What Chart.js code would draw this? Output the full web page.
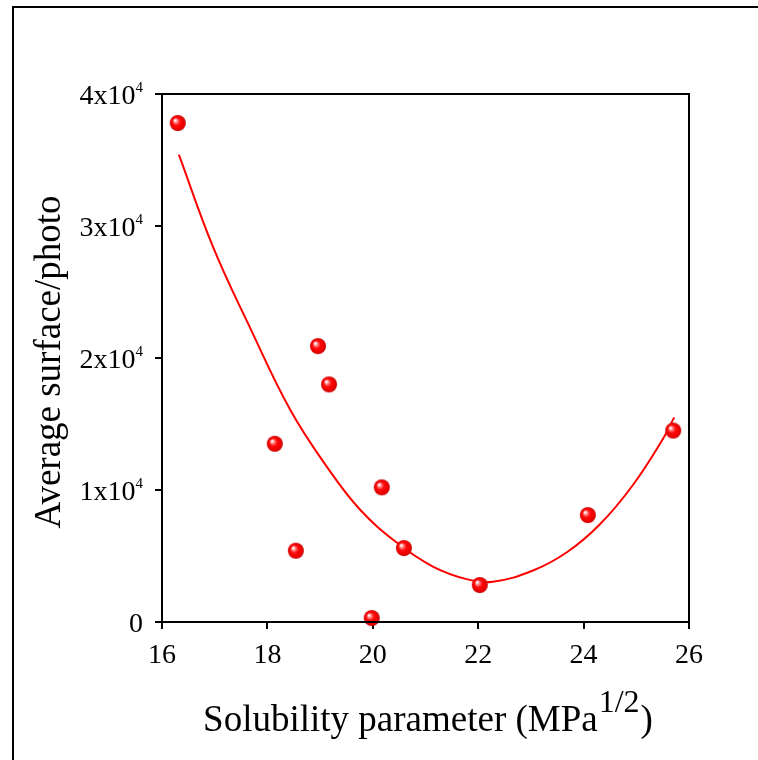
<!DOCTYPE html>
<html>
<head>
<meta charset="utf-8">
<title>Average surface vs solubility parameter</title>
<script src="https://cdn.jsdelivr.net/npm/chart.js@4.4.1/dist/chart.umd.min.js"></script>
<style>
  html, body { margin: 0; padding: 0; background: #fff; }
  #chart { display: block; }
</style>
</head>
<body>
<canvas id="chart" width="758" height="760"></canvas>
<script>
// measured points
const solubility = [16.30, 18.14, 18.54, 18.96, 19.17, 19.98, 20.17, 20.59, 22.03, 24.08, 25.70];
const avgSurface = [37800, 13500, 5400, 20900, 18000, 300, 10200, 5600, 2800, 8100, 14500];

// fitted curve
const fitX = [16.32, 16.97, 17.67, 18.43, 19.13, 19.76, 20.46, 21.14, 21.78, 22.28, 23.04, 23.69, 24.31, 24.94, 25.51, 25.72];
const fitY = [35400, 28400, 22300, 16100, 11750, 8500, 6000, 4200, 3250, 3050, 3900, 5300, 7400, 10400, 13900, 15500];

// axis ticks
const xTicks = [16, 18, 20, 22, 24, 26];
const yTicks = [0, 10000, 20000, 30000, 40000];
const yTickMain = ['0', '1x10', '2x10', '3x10', '4x10'];
const yTickSup = ['', '4', '4', '4', '4'];

const xTitle = 'Solubility parameter (MPa';
const xTitleSup = '1/2';
const yTitle = 'Average surface/photo';

const FONT = "'Liberation Serif', 'Times New Roman', serif";

// little shaded red ball for the markers
function makeBall(r) {
    const c = document.createElement('canvas');
    c.width = r * 2 + 2;
    c.height = r * 2 + 2;
    const g = c.getContext('2d');
    const cx = r + 1, cy = r + 1;
    const grad = g.createRadialGradient(cx - r * 0.35, cy - r * 0.35, 0.5, cx, cy, r);
    grad.addColorStop(0, '#ffffff');
    grad.addColorStop(0.18, '#ff9090');
    grad.addColorStop(0.45, '#ff0a0a');
    grad.addColorStop(0.85, '#e80000');
    grad.addColorStop(1, '#c00000');
    g.fillStyle = grad;
    g.beginPath();
    g.arc(cx, cy, r, 0, Math.PI * 2);
    g.fill();
    return c;
}

const framePlugin = {
    id: 'frame',
    beforeDraw(chart) {
        // outer picture frame, only left and top edges are in view
        const ctx = chart.ctx;
        ctx.save();
        ctx.strokeStyle = '#000';
        ctx.lineWidth = 2;
        ctx.beginPath();
        ctx.moveTo(13, chart.height);
        ctx.lineTo(13, 7);
        ctx.lineTo(chart.width, 7);
        ctx.stroke();
        ctx.restore();
    },
    afterDraw(chart) {
        const ctx = chart.ctx;
        const area = chart.chartArea;
        const xs = chart.scales.x;
        const ys = chart.scales.y;
        ctx.save();
        ctx.strokeStyle = '#000';
        ctx.lineWidth = 2;
        ctx.strokeRect(area.left, area.top, area.right - area.left, area.bottom - area.top);

        ctx.fillStyle = '#000';
        // x tick labels
        ctx.font = '28px ' + FONT;
        ctx.textAlign = 'center';
        ctx.textBaseline = 'alphabetic';
        xTicks.forEach(v => {
            ctx.fillText(String(v), xs.getPixelForValue(v), area.bottom + 41);
        });

        // y tick labels with superscript
        yTicks.forEach((v, i) => {
            const y = ys.getPixelForValue(v);
            ctx.font = '15px ' + FONT;
            const supW = yTickSup[i] ? ctx.measureText(yTickSup[i]).width : 0;
            const right = area.left - 19;
            ctx.textAlign = 'right';
            if (yTickSup[i]) {
                ctx.fillText(yTickSup[i], right, y - 2);
            }
            ctx.font = '28px ' + FONT;
            ctx.fillText(yTickMain[i], right - supW, y + 10);
        });

        // y title
        ctx.save();
        ctx.translate(50, 362);
        ctx.rotate(-Math.PI / 2);
        ctx.font = '37px ' + FONT;
        ctx.textAlign = 'center';
        ctx.textBaseline = 'middle';
        ctx.fillText(yTitle, 0, 0);
        ctx.restore();

        // x title with the 1/2 exponent
        ctx.textAlign = 'left';
        ctx.textBaseline = 'alphabetic';
        ctx.font = '37px ' + FONT;
        const w1 = ctx.measureText(xTitle).width;
        ctx.font = '32px ' + FONT;
        const w2 = ctx.measureText(xTitleSup).width;
        ctx.font = '37px ' + FONT;
        const w3 = ctx.measureText(')').width;
        const startX = 427 - (w1 + w2 + w3) / 2;
        ctx.fillText(xTitle, startX, 731);
        ctx.font = '32px ' + FONT;
        ctx.fillText(xTitleSup, startX + w1 + 1, 712);
        ctx.font = '37px ' + FONT;
        ctx.fillText(')', startX + w1 + w2 + 2, 731);
        ctx.restore();
    }
};

document.addEventListener('DOMContentLoaded', () => {
    const ctx = document.getElementById('chart').getContext('2d');
    const ball = makeBall(8);

    new Chart(ctx, {
        type: 'scatter',
        data: {
            datasets: [{
                label: 'Fit',
                data: fitX.map((x, i) => ({ x: x, y: fitY[i] })),
                showLine: true,
                borderColor: '#ff0000',
                borderWidth: 2,
                pointRadius: 0,
                tension: 0.4,
                order: 2
            }, {
                label: 'Average surface/photo',
                data: solubility.map((x, i) => ({ x: x, y: avgSurface[i] })),
                pointStyle: ball,
                pointRadius: 8,
                clip: false,
                order: 1
            }]
        },
        options: {
            responsive: false,
            animation: false,
            devicePixelRatio: 1,
            layout: {
                padding: { left: 155, top: 94, right: 69, bottom: 131 }
            },
            plugins: {
                legend: { display: false },
                tooltip: { enabled: false }
            },
            scales: {
                x: {
                    type: 'linear',
                    min: 16,
                    max: 26,
                    ticks: { display: false, stepSize: 2 },
                    grid: {
                        drawOnChartArea: false,
                        drawTicks: true,
                        tickLength: 7,
                        color: '#000',
                        lineWidth: 2
                    },
                    border: { display: true, color: '#000', width: 2 }
                },
                y: {
                    type: 'linear',
                    min: 0,
                    max: 40000,
                    ticks: { display: false, stepSize: 10000 },
                    grid: {
                        drawOnChartArea: false,
                        drawTicks: true,
                        tickLength: 7,
                        color: '#000',
                        lineWidth: 2
                    },
                    border: { display: true, color: '#000', width: 2 }
                }
            }
        },
        plugins: [framePlugin]
    });
});
</script>
</body>
</html>
